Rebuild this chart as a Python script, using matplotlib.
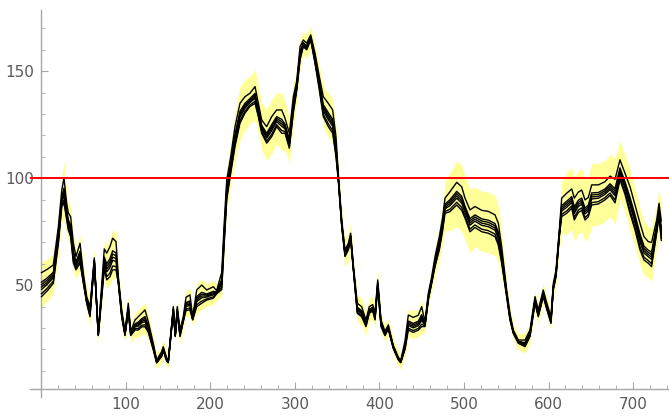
import numpy as np
import matplotlib
matplotlib.use("Agg")
import matplotlib.pyplot as plt
from matplotlib.ticker import FixedLocator

# ---- data ----
x = [0, 7, 14, 20, 24, 26.6, 29.8, 31.7, 34.5, 37.7, 40.8, 45.6, 49.5, 53.5, 57.4,
     62.5, 67.2, 74.3, 77.2, 81, 84.2, 88.2, 90.9, 94.9, 98.8, 102.7, 105.6, 110.7,
     114.6, 118.6, 122.5, 126.4, 132.3, 136.3, 142.2, 144.1, 148.2, 150, 156, 158.3,
     160.7, 163.9, 167.8, 171, 175.7, 178.9, 183.7, 189.6, 195.5, 203.3, 207.3, 210.4,
     213.3, 216, 219.2, 223.9, 229, 234.9, 240.8, 246.7, 252.7, 256.6, 260.6, 266.5,
     272.4, 278.3, 284.3, 288.2, 293.3, 298, 302, 306, 309.8, 313.8, 318.6, 323.7,
     328.8, 333.5, 339.4, 344.6, 348.5, 351.2, 355.3, 359.2, 363.1, 365.9, 369, 373.7,
     378.9, 384, 387.9, 392, 394.7, 397.9, 401.8, 406.5, 410.4, 416.3, 422.2, 425.1,
     430.2, 434.1, 440, 445.9, 449.9, 453.8, 457.8, 461.8, 465.7, 470.8, 474.8, 477.5,
     483.4, 491.4, 497.3, 501.2, 507.1, 513, 521, 528.8, 536.7, 540.6, 544.6, 550.5,
     554.4, 558.3, 564.3, 572.2, 578.1, 584, 587.9, 593.8, 597.8, 602.9, 605.7, 608.9,
     612.8, 615.6, 621.5, 627.5, 630.5, 635.3, 639.3, 643.2, 647.1, 651.1, 659, 666.9,
     672.8, 678.7, 684.6, 690.5, 696.4, 702.4, 708.3, 713, 718.1, 722, 728, 730.8, 733.5]

upper = [55.9, 57.5, 59.5, 77.4, 94.5, 100, 88.4, 83.8, 82, 69.8, 63.4, 69.6, 55.7, 44.7, 40,
         62.8, 27.6, 67, 65, 68, 72, 70.4, 54, 38.5, 28.5, 41.6, 28.5, 33.8,
         35.3, 36.9, 38.5, 33, 22.9, 15.1, 19, 21.3, 15.9, 14.8, 40, 27.6,
         40, 29.1, 35.3, 44.4, 45.5, 35.3, 47.8, 50.1, 47.8, 49.3, 47.5, 52,
         56, 77.4, 99.2, 110, 124.1, 135, 138.1, 139.7, 142.8, 135, 127.2, 124.1,
         128.8, 131.9, 131.9, 128, 121, 138.1, 145.4, 161.5, 164.6, 163.1, 167, 158.4,
         147.5, 138.1, 135, 131.9, 119.4, 102.3, 80.5, 66.5, 69.6, 74.3, 59.5, 41.6,
         40, 33.8, 40, 41, 36.9, 52.5, 33.8, 28.5, 31.5, 22, 16.5, 14.8,
         24, 36.1, 35, 36, 40, 33, 46.3, 54, 63.4, 72.7, 82, 90.7,
         93.7, 98.1, 96, 90.7, 85.2, 86.8, 85, 84.5, 82.9, 79, 68, 47.8,
         36.9, 29.1, 24.4, 24.4, 29.1, 44.7, 38.5, 47.8, 42, 35.3, 50.9, 57.2,
         75.8, 90.7, 93, 95, 90.7, 93.5, 94.5, 89.9, 91, 96.9, 96.9, 98.4,
         101, 99.5, 108.6, 102.3, 96.1, 87.5, 79, 72.7, 70.4, 70, 80.5, 88.3, 80]

lower = [44.7, 47.5, 50.9, 69.6, 86.7, 88.5, 80.5, 75.9, 72.7, 60.4, 57.2, 60.4, 51, 41.6, 35.3,
         60.4, 26.5, 57.5, 52.5, 54, 57.2, 57.2, 51, 35.3, 26.5, 37.5, 26.5, 29.1,
         29.1, 30.6, 30.6, 28, 19.8, 13.7, 16.7, 19.5, 14.5, 13.8, 37.7, 26,
         36.9, 26, 33, 38.2, 38.5, 33.8, 40, 41.6, 43.1, 43.9, 46, 47,
         48, 68, 89.9, 102.3, 114.8, 125.7, 130.4, 133.5, 135, 128.8, 121, 116.4,
         119.4, 124.1, 121, 121, 114, 130.4, 140.8, 155.3, 161.5, 160, 164.6, 153.7,
         141.3, 128.8, 124.1, 121, 110.1, 99.2, 77.4, 63.4, 66.5, 71.2, 57.5, 36.9,
         35.3, 30.7, 36.9, 38, 33.8, 49.3, 30.7, 26.5, 29.5, 20.5, 15.2, 13.8,
         20, 29.1, 28, 29, 30.7, 30.7, 43.1, 50.9, 58.7, 66.5, 75.8, 83.6,
         84.4, 87.5, 85, 81.3, 75, 77, 75, 74.3, 72.7, 68.8, 60.3, 44.7,
         33.8, 27.6, 22.9, 21.3, 26, 41.6, 35.3, 44.7, 39, 32.2, 47.8, 54,
         72.7, 82.1, 83.6, 86, 80.5, 84, 85, 80.5, 82, 87.5, 88, 89.9,
         92, 88.5, 99.2, 92.5, 83.6, 75.8, 66.5, 61.8, 60.3, 58.7, 74.3, 82, 71]

pad = [5, 5, 5, 6, 7, 8, 6, 5, 5, 4, 4, 4, 4, 4, 4,
       4, 4, 4, 4, 4, 4, 4, 4, 4, 3.5, 3.5, 3.5, 3.5,
       3.5, 3.5, 3.5, 3.5, 3, 3, 3, 3, 3, 3, 3, 3,
       3, 3, 3, 3, 3, 3, 3, 3, 3, 3, 3, 3,
       3, 4, 5, 6, 7, 8, 8, 8, 8, 8, 8, 8,
       8, 8, 8, 8, 7, 6, 5, 4, 4, 4, 4, 4,
       5, 5, 5, 5, 5, 5, 5, 5, 5, 5, 4, 4,
       4, 4, 4, 4, 4, 4, 3, 3, 3, 3, 3, 3,
       3, 3, 3, 3, 3, 3, 3, 3.5, 4, 5, 6, 8,
       9, 10, 10, 10, 10, 9, 9, 9, 9, 8, 7, 4,
       3, 3, 3, 3, 3, 3, 3, 3, 3, 3, 3, 4,
       6, 8, 10, 10, 10, 10, 10, 10, 10, 10, 10, 10,
       10, 10, 9, 9, 8, 8, 7, 7, 7, 7, 7, 7, 7]

fractions = [0.0, 0.12, 0.3, 0.4, 0.5, 0.6, 1.0]
threshold = 100
x_major = [100, 200, 300, 400, 500, 600, 700]
y_major = [50, 100, 150]

# ---- figure ----
W, H = 669, 416
fig = plt.figure(figsize=(W / 100, H / 100), dpi=100)
L, R, B, T = 30, 669, 397, 10
ax = fig.add_axes([L / W, (H - B) / H, (R - L) / W, (B - T) / H])

xa = np.array(x)
up = np.array(upper)
lo = np.array(lower)
pd_ = np.array(pad)

ax.fill_between(xa, lo - pd_, up + pd_, color='#ffff9a', lw=0, zorder=1)
for f in fractions:
    ax.plot(xa, lo + f * (up - lo), color='black', lw=1.0, zorder=3)
ax.axhline(threshold, color='#ff0000', lw=1.4, zorder=4)

ax.set_xlim(-13.6, 742.6)
ax.set_ylim(-2.2, 178.6)

for s in ['top', 'right']:
    ax.spines[s].set_visible(False)
ax.spines['left'].set_position(('data', 0))
ax.spines['bottom'].set_position(('data', 1.5))
for s in ['left', 'bottom']:
    ax.spines[s].set_color('#a6a6a6')
    ax.spines[s].set_linewidth(1.0)

ax.xaxis.set_major_locator(FixedLocator(x_major))
ax.xaxis.set_minor_locator(FixedLocator([v for v in range(20, 741, 20) if v % 100]))
ax.yaxis.set_major_locator(FixedLocator(y_major))
ax.yaxis.set_minor_locator(FixedLocator([v for v in range(10, 171, 10) if v % 50]))
ax.set_xticklabels([str(v) for v in x_major])
ax.set_yticklabels([str(v) for v in y_major])

ax.tick_params(which='both', direction='in', color='#a6a6a6', labelcolor='#5a5a5a',
               labelsize=11)
ax.tick_params(which='major', length=5, width=0.8)
ax.tick_params(which='minor', length=3, width=0.6)
ax.tick_params(axis='y', pad=5)
ax.tick_params(axis='x', pad=6)

fig.savefig('out.png', dpi=100)
